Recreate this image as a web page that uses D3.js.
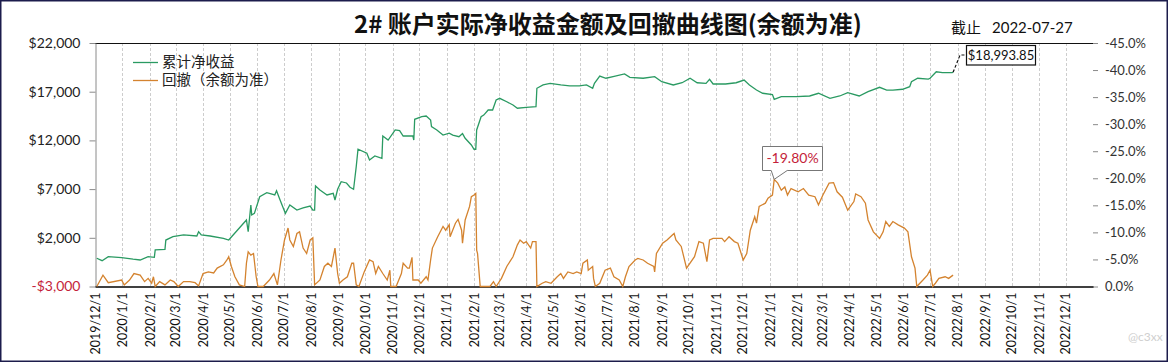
<!DOCTYPE html>
<html>
<head>
<meta charset="utf-8">
<script src="https://cdn.jsdelivr.net/npm/d3@7"></script>
<style>
  body { margin: 0; background: #fff; }
  svg { display: block; font-family: Lato, "Noto Sans CJK SC", sans-serif; }
</style>
</head>
<body>
<svg id="chart"></svg>
<script>
// cumulative net profit ($)
var profitSeries = [
  ["2019-12-03", -100], ["2019-12-09", -350], ["2019-12-16", 60], ["2019-12-31", -40], ["2020-01-13", -200],
  ["2020-01-21", -280], ["2020-01-30", 60], ["2020-02-06", 0], ["2020-02-07", 750], ["2020-02-18", 820],
  ["2020-02-19", 1770], ["2020-02-27", 2110], ["2020-03-10", 2290], ["2020-03-25", 2185], ["2020-03-27", 2630],
  ["2020-03-30", 2290], ["2020-04-09", 2185], ["2020-04-24", 1950], ["2020-04-30", 1770], ["2020-05-05", 2290],
  ["2020-05-15", 3310], ["2020-05-20", 3830], ["2020-05-22", 2630], ["2020-05-25", 5370], ["2020-05-26", 4340],
  ["2020-05-29", 4510], ["2020-06-04", 6220], ["2020-06-12", 6630], ["2020-06-21", 6400], ["2020-06-23", 6835],
  ["2020-06-27", 5880], ["2020-06-30", 5190], ["2020-07-03", 4510], ["2020-07-08", 5370], ["2020-07-16", 4850],
  ["2020-07-23", 5060], ["2020-07-31", 5260], ["2020-08-03", 4850], ["2020-08-05", 4850], ["2020-08-06", 7320],
  ["2020-08-11", 6910], ["2020-08-19", 6400], ["2020-08-26", 6570], ["2020-08-28", 5880], ["2020-08-31", 6980],
  ["2020-09-04", 7760], ["2020-09-10", 7630], ["2020-09-14", 7190], ["2020-09-18", 6980], ["2020-09-21", 9300],
  ["2020-09-23", 11090], ["2020-10-03", 10680], ["2020-10-06", 9990], ["2020-10-12", 10400], ["2020-10-20", 10160],
  ["2020-10-21", 12450], ["2020-10-27", 12040], ["2020-11-04", 13070], ["2020-11-09", 13000], ["2020-11-13", 12450],
  ["2020-11-24", 12450], ["2020-11-25", 12040], ["2020-11-26", 14170], ["2020-12-04", 14430], ["2020-12-09", 14500],
  ["2020-12-14", 14090], ["2020-12-15", 13410], ["2020-12-21", 13070], ["2020-12-28", 12550], ["2021-01-04", 12750],
  ["2021-01-08", 12550], ["2021-01-15", 12380], ["2021-01-19", 12700], ["2021-01-22", 12220], ["2021-01-29", 11530],
  ["2021-02-01", 11090], ["2021-02-03", 11090], ["2021-02-04", 13070], ["2021-02-09", 14430], ["2021-02-12", 14600],
  ["2021-02-17", 15120], ["2021-02-22", 15120], ["2021-02-26", 16150], ["2021-03-02", 16320], ["2021-03-10", 15970],
  ["2021-03-17", 15630], ["2021-03-22", 15300], ["2021-04-01", 15400], ["2021-04-12", 15460], ["2021-04-13", 17350],
  ["2021-04-20", 17690], ["2021-04-28", 17860], ["2021-05-10", 17690], ["2021-05-20", 17590], ["2021-05-31", 17590],
  ["2021-06-08", 17690], ["2021-06-15", 17350], ["2021-06-17", 17860], ["2021-06-23", 18610], ["2021-06-30", 18380],
  ["2021-07-08", 18540], ["2021-07-21", 18820], ["2021-07-27", 18480], ["2021-08-11", 18380], ["2021-08-24", 18540],
  ["2021-09-01", 18030], ["2021-09-14", 17690], ["2021-09-24", 17920], ["2021-10-03", 18380], ["2021-10-11", 17920],
  ["2021-10-21", 17860], ["2021-10-25", 18270], ["2021-10-29", 17790], ["2021-11-12", 17790], ["2021-11-24", 17920],
  ["2021-12-03", 18200], ["2021-12-09", 17690], ["2021-12-17", 17170], ["2021-12-24", 16840], ["2022-01-04", 16700],
  ["2022-01-06", 16220], ["2022-01-14", 16490], ["2022-01-31", 16490], ["2022-02-15", 16560], ["2022-02-25", 16840],
  ["2022-03-10", 16320], ["2022-03-21", 16560], ["2022-03-30", 16900], ["2022-04-12", 16560], ["2022-04-22", 17000],
  ["2022-05-05", 17450], ["2022-05-13", 17170], ["2022-05-20", 17170], ["2022-05-31", 17250], ["2022-06-08", 17510],
  ["2022-06-10", 18030], ["2022-06-17", 18380], ["2022-06-29", 18300], ["2022-07-01", 18380], ["2022-07-08", 19050],
  ["2022-07-15", 18950], ["2022-07-26", 18950], ["2022-07-27", 18993.85]
];

// drawdown (%), right axis
var drawdownSeries = [
  ["2019-12-03", 0], ["2019-12-10", -2.1], ["2019-12-16", -0.7], ["2019-12-31", -1.2], ["2020-01-03", -0.3],
  ["2020-01-09", -1.2], ["2020-01-14", -2.4], ["2020-01-21", -2.1], ["2020-01-26", -0.9], ["2020-01-30", -1.5],
  ["2020-02-03", -0.6], ["2020-02-05", -1.8], ["2020-02-07", 0], ["2020-02-12", -0.9], ["2020-02-18", -0.3],
  ["2020-02-24", -1.2], ["2020-02-28", -0.9], ["2020-03-04", 0], ["2020-03-10", -0.9], ["2020-03-17", -0.9],
  ["2020-03-23", -0.7], ["2020-03-27", -0.1], ["2020-04-01", -2.4], ["2020-04-07", -2.7], ["2020-04-13", -2.5],
  ["2020-04-17", -3.4], ["2020-04-24", -4.0], ["2020-04-28", -4.9], ["2020-04-30", -5.5], ["2020-05-03", -3.7],
  ["2020-05-07", -1.8], ["2020-05-12", -0.3], ["2020-05-18", 0], ["2020-05-20", -4.3], ["2020-05-22", -6.4],
  ["2020-05-25", -5.8], ["2020-05-28", -6.1], ["2020-05-31", -1.8], ["2020-06-02", 0], ["2020-06-08", 0],
  ["2020-06-15", -1.2], ["2020-06-20", -2.4], ["2020-06-24", -0.3], ["2020-06-28", -4.9], ["2020-07-02", -8.6],
  ["2020-07-06", -10.8], ["2020-07-08", -8.6], ["2020-07-12", -7.4], ["2020-07-16", -9.8], ["2020-07-19", -10.1],
  ["2020-07-23", -7.1], ["2020-07-27", -6.1], ["2020-07-31", -8.6], ["2020-08-03", -9.0], ["2020-08-05", -0.3],
  ["2020-08-11", -1.2], ["2020-08-16", -3.7], ["2020-08-20", -4.3], ["2020-08-24", -3.7], ["2020-08-28", -7.1],
  ["2020-08-31", -2.4], ["2020-09-02", -0.6], ["2020-09-06", -1.2], ["2020-09-11", -1.8], ["2020-09-16", -4.3],
  ["2020-09-18", -4.3], ["2020-09-21", -0.3], ["2020-09-24", 0], ["2020-09-30", -2.7], ["2020-10-06", -4.9],
  ["2020-10-10", -4.6], ["2020-10-13", -2.4], ["2020-10-16", -3.7], ["2020-10-21", -2.4], ["2020-10-26", -1.2],
  ["2020-10-29", -3.0], ["2020-10-30", 0], ["2020-11-05", 0], ["2020-11-11", -2.4], ["2020-11-13", -4.3],
  ["2020-11-18", -3.4], ["2020-11-20", -3.4], ["2020-11-23", -5.4], ["2020-11-24", -1.2], ["2020-11-30", -1.2],
  ["2020-12-03", -0.6], ["2020-12-09", -1.8], ["2020-12-11", -1.2], ["2020-12-14", -4.9], ["2020-12-16", -7.1],
  ["2020-12-22", -9.2], ["2020-12-28", -11.1], ["2020-12-31", -10.4], ["2021-01-04", -11.4], ["2021-01-05", -9.2],
  ["2021-01-11", -11.7], ["2021-01-14", -12.4], ["2021-01-18", -10.4], ["2021-01-19", -8.0], ["2021-01-22", -12.3],
  ["2021-01-27", -14.8], ["2021-01-29", -16.6], ["2021-02-01", -16.9], ["2021-02-03", -17.2], ["2021-02-04", -6.7],
  ["2021-02-05", -6.1], ["2021-02-08", 0], ["2021-02-19", 0], ["2021-02-23", -0.9], ["2021-02-26", 0],
  ["2021-03-04", -1.5], ["2021-03-10", -3.7], ["2021-03-17", -5.5], ["2021-03-22", -7.7], ["2021-03-25", -8.6],
  ["2021-03-29", -8.0], ["2021-04-01", -8.3], ["2021-04-06", -7.1], ["2021-04-08", -8.3], ["2021-04-12", -8.3],
  ["2021-04-13", 0], ["2021-04-19", -0.6], ["2021-04-23", -0.9], ["2021-04-29", -0.6], ["2021-05-06", -1.8],
  ["2021-05-10", -2.4], ["2021-05-13", -1.5], ["2021-05-18", -2.7], ["2021-05-24", -2.4], ["2021-05-28", -2.7],
  ["2021-06-02", -2.4], ["2021-06-04", -4.3], ["2021-06-09", -4.9], ["2021-06-10", -3.0], ["2021-06-15", -3.7],
  ["2021-06-16", -1.5], ["2021-06-18", 0], ["2021-06-23", -0.6], ["2021-06-29", -3.0], ["2021-07-05", -3.4],
  ["2021-07-09", -1.8], ["2021-07-15", -1.2], ["2021-07-19", 0], ["2021-07-22", -1.8], ["2021-07-26", -3.7],
  ["2021-08-02", -4.9], ["2021-08-05", -5.2], ["2021-08-11", -4.9], ["2021-08-16", -4.3], ["2021-08-23", -3.7],
  ["2021-08-24", -2.7], ["2021-08-26", -6.1], ["2021-09-02", -8.0], ["2021-09-07", -8.6], ["2021-09-13", -9.5],
  ["2021-09-15", -9.8], ["2021-09-17", -8.6], ["2021-09-23", -7.4], ["2021-09-29", -3.4], ["2021-10-08", -5.5],
  ["2021-10-13", -8.3], ["2021-10-18", -8.0], ["2021-10-22", -4.6], ["2021-10-25", -8.6], ["2021-10-29", -8.9],
  ["2021-11-08", -8.9], ["2021-11-11", -8.3], ["2021-11-16", -9.2], ["2021-11-22", -8.3], ["2021-11-26", -8.0],
  ["2021-12-02", -4.9], ["2021-12-06", -6.1], ["2021-12-10", -10.4], ["2021-12-15", -12.9], ["2021-12-17", -11.7],
  ["2021-12-20", -14.8], ["2021-12-27", -15.4], ["2021-12-30", -16.3], ["2022-01-04", -16.9], ["2022-01-06", -19.8],
  ["2022-01-10", -19.1], ["2022-01-14", -17.8], ["2022-01-18", -18.4], ["2022-01-21", -16.9], ["2022-01-25", -18.1],
  ["2022-02-02", -17.5], ["2022-02-08", -18.1], ["2022-02-14", -16.9], ["2022-02-21", -16.6], ["2022-02-25", -15.1],
  ["2022-03-02", -16.9], ["2022-03-09", -19.1], ["2022-03-14", -19.2], ["2022-03-18", -17.5], ["2022-03-24", -16.5],
  ["2022-03-30", -14.1], ["2022-04-06", -15.7], ["2022-04-08", -17.1], ["2022-04-14", -16.6], ["2022-04-19", -15.4],
  ["2022-04-22", -12.3], ["2022-04-28", -10.1], ["2022-05-05", -8.9], ["2022-05-09", -10.1], ["2022-05-12", -12.0],
  ["2022-05-16", -11.1], ["2022-05-20", -12.0], ["2022-05-26", -11.4], ["2022-06-02", -10.8], ["2022-06-06", -10.1],
  ["2022-06-10", -5.5], ["2022-06-14", -3.4], ["2022-06-16", 0], ["2022-06-23", -1.2], ["2022-06-28", -2.1],
  ["2022-07-01", -3.0], ["2022-07-04", 0], ["2022-07-07", -0.6], ["2022-07-11", -1.5], ["2022-07-18", -1.8],
  ["2022-07-22", -1.5], ["2022-07-27", -2.1]
];

var leftTicks = [-3000, 2000, 7000, 12000, 17000, 22000];
var rightTicks = [0, -5, -10, -15, -20, -25, -30, -35, -40, -45];
var seriesNames = ["累计净收益", "回撤（余额为准）"];
var titleText = "2# 账户实际净收益金额及回撤曲线图(余额为准)";
var asOfLabel = "截止";
var asOfDate = "2022-07-27";

var width = 1168, height = 362;
var plotLeft = 95, plotRight = 1093, plotTop = 43, plotBottom = 286.5;
var green = "#2a9a62", orange = "#d4832f";

var parse = d3.timeParse("%Y-%m-%d");
profitSeries.forEach(function (d) { d.date = parse(d[0]); d.value = d[1]; });
drawdownSeries.forEach(function (d) { d.date = parse(d[0]); d.value = d[1]; });

var svg = d3.select("#chart").attr("width", width).attr("height", height);

svg.append("rect")
  .attr("x", 0.75).attr("y", 0.75)
  .attr("width", width - 1.5).attr("height", height - 1.5)
  .attr("fill", "#fff")
  .attr("stroke", "#1c1c4c")
  .attr("stroke-width", 1.5);

var start = new Date(2019, 11, 1), end = new Date(2023, 0, 1);
var x = d3.scaleTime().domain([start, end]).range([plotLeft, plotRight]);
var yL = d3.scaleLinear().domain([-3000, 22000]).range([plotBottom, plotTop]);
var yR = d3.scaleLinear().domain([0, -45]).range([plotBottom, plotTop]);
var months = d3.timeMonth.range(start, end);

// vertical dashed grid
svg.append("g")
  .selectAll("line")
  .data(months.slice(1))
  .enter()
  .append("line")
  .attr("x1", function (d) { return Math.round(x(d)) + 0.5; })
  .attr("x2", function (d) { return Math.round(x(d)) + 0.5; })
  .attr("y1", plotTop)
  .attr("y2", plotBottom)
  .attr("stroke", "#cdcdcd")
  .attr("stroke-dasharray", "3,2");

// top border of plot
svg.append("line")
  .attr("x1", plotLeft).attr("x2", plotRight)
  .attr("y1", plotTop + 0.5).attr("y2", plotTop + 0.5)
  .attr("stroke", "#111").attr("stroke-width", 1.2);

// left axis
var fmtMoney = function (d) {
  var s = "$" + d3.format(",")(Math.abs(d));
  return d < 0 ? "-" + s : s;
};
var gL = svg.append("g")
  .attr("transform", "translate(" + (plotLeft + 0.5) + ",0)")
  .call(d3.axisLeft(yL).tickValues(leftTicks).tickFormat(fmtMoney).tickSize(6).tickSizeOuter(0).tickPadding(9));
gL.select(".domain").attr("stroke", "#8a8a8a");
gL.selectAll(".tick line").attr("stroke", "#8a8a8a");
gL.selectAll(".tick text")
  .attr("font-family", "Lato, sans-serif")
  .attr("font-size", "14px")
  .attr("fill", function (d) { return d < 0 ? "#c41e3a" : "#222"; });

// right axis
var gR = svg.append("g")
  .attr("transform", "translate(" + plotRight + ",0)")
  .call(d3.axisRight(yR).tickValues(rightTicks)
    .tickFormat(function (d) { return d.toFixed(1) + "%"; })
    .tickSize(5).tickSizeOuter(0).tickPadding(7));
gR.select(".domain").remove();
gR.selectAll(".tick line").attr("stroke", "#8a8a8a");
gR.selectAll(".tick text")
  .attr("font-family", "Lato, sans-serif")
  .attr("font-size", "13px")
  .attr("fill", "#333");

// bottom axis
var gX = svg.append("g")
  .attr("transform", "translate(0," + plotBottom + ")")
  .call(d3.axisBottom(x).tickValues(months).tickFormat(d3.timeFormat("%Y/%-m/%-d"))
    .tickSize(0).tickSizeOuter(0).tickPadding(0));
gX.select(".domain").attr("stroke", "#000").attr("stroke-width", 1.3);
gX.selectAll(".tick text")
  .attr("transform", "rotate(-90)")
  .attr("text-anchor", "end")
  .attr("x", -6)
  .attr("y", 0)
  .attr("dy", "0.35em")
  .attr("font-family", "Lato, sans-serif")
  .attr("font-size", "12.5px")
  .attr("fill", "#111");

// lines
var lineL = d3.line().x(function (d) { return x(d.date); }).y(function (d) { return yL(d.value); });
var lineR = d3.line().x(function (d) { return x(d.date); }).y(function (d) { return yR(d.value); });

svg.append("path")
  .datum(drawdownSeries)
  .attr("d", lineR)
  .attr("fill", "none")
  .attr("stroke", orange)
  .attr("stroke-width", 1.3);

svg.append("path")
  .datum(profitSeries)
  .attr("d", lineL)
  .attr("fill", "none")
  .attr("stroke", green)
  .attr("stroke-width", 1.3);

// title
svg.append("text")
  .attr("x", 608).attr("y", 33)
  .attr("text-anchor", "middle")
  .attr("font-family", "'Noto Sans CJK SC', sans-serif")
  .attr("font-weight", "bold")
  .attr("font-size", "24px")
  .attr("fill", "#111")
  .text(titleText);

svg.append("text")
  .attr("x", 951).attr("y", 33)
  .attr("font-family", "'Noto Sans CJK SC', sans-serif")
  .attr("font-size", "15px")
  .attr("fill", "#111")
  .text(asOfLabel);
svg.append("text")
  .attr("x", 992).attr("y", 33)
  .attr("font-family", "Lato, sans-serif")
  .attr("font-size", "15px")
  .attr("fill", "#111")
  .text(asOfDate);

// legend
var legend = svg.append("g").attr("transform", "translate(133,62)");
[green, orange].forEach(function (c, i) {
  legend.append("line")
    .attr("x1", 0).attr("x2", 25)
    .attr("y1", i * 18 + 0.5).attr("y2", i * 18 + 0.5)
    .attr("stroke", c).attr("stroke-width", 1.3);
  legend.append("text")
    .attr("x", 29).attr("y", i * 18)
    .attr("dy", "0.35em")
    .attr("font-family", "'Noto Sans CJK SC', sans-serif")
    .attr("font-size", "14.5px")
    .attr("fill", "#222")
    .text(seriesNames[i]);
});

// last profit value label
var last = profitSeries[profitSeries.length - 1];
var lx = x(last.date), ly = yL(last.value);
svg.append("path")
  .attr("d", "M" + lx + "," + ly + "L" + (lx + 7) + "," + 55 + "H" + 966)
  .attr("fill", "none")
  .attr("stroke", "#111")
  .attr("stroke-dasharray", "3,2")
  .attr("stroke-width", 1.2);
svg.append("rect")
  .attr("x", 966.5).attr("y", 45.5)
  .attr("width", 69).attr("height", 19.5)
  .attr("fill", "#fff")
  .attr("stroke", "#111")
  .attr("stroke-width", 1.2);
svg.append("text")
  .attr("x", 1001).attr("y", 55.5)
  .attr("dy", "0.35em")
  .attr("text-anchor", "middle")
  .attr("font-family", "Lato, sans-serif")
  .attr("font-size", "13px")
  .attr("fill", "#111")
  .text("$" + d3.format(",.2f")(last.value));

// max drawdown callout
var worst = drawdownSeries[d3.minIndex(drawdownSeries, function (d) { return d.value; })];
var px = x(worst.date), py = yR(worst.value);
var bx0 = 762.5, bx1 = 822.5, by0 = 146.5, by1 = 170.5;
svg.append("path")
  .attr("d", "M" + bx0 + "," + by0 + "H" + bx1 + "V" + by1 + "H" + (px + 13) +
    "L" + px + "," + py + "L" + (px - 3) + "," + by1 + "H" + bx0 + "Z")
  .attr("fill", "#fff")
  .attr("stroke", "#777")
  .attr("stroke-width", 1);
svg.append("text")
  .attr("x", (bx0 + bx1) / 2).attr("y", (by0 + by1) / 2)
  .attr("dy", "0.35em")
  .attr("text-anchor", "middle")
  .attr("font-family", "Lato, sans-serif")
  .attr("font-size", "14px")
  .attr("fill", "#c41e3a")
  .text(worst.value.toFixed(2) + "%");

// watermark
svg.append("text")
  .attr("x", 1128).attr("y", 341)
  .attr("font-family", "Lato, sans-serif")
  .attr("font-size", "12px")
  .attr("fill", "#cfcfcf")
  .text("@c3xx");
</script>
</body>
</html>
